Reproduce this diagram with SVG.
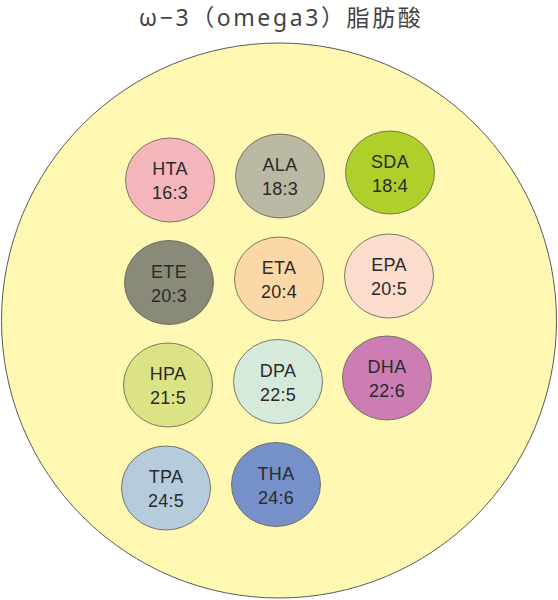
<svg xmlns="http://www.w3.org/2000/svg" width="558" height="600" viewBox="0 0 558 600">
<style>
.n ellipse{stroke:#5a5a50;stroke-width:0.8}
.n text{font-family:"Liberation Sans","Noto Sans",Arial,sans-serif;font-size:18px;fill:#2a2a2a;text-anchor:middle;letter-spacing:0.3px}
.title{font-family:"Noto Sans","Noto Sans CJK SC",sans-serif;font-size:23px;fill:#444;text-anchor:middle;letter-spacing:2.6px}
</style>
<rect width="558" height="600" fill="#ffffff"/>
<text class="title" x="281" y="26">ω−3（omega3）脂肪酸</text>
<ellipse id="bg" cx="279" cy="320.5" rx="277.5" ry="277.5" fill="#fff8b3" stroke="#5a5a5a" stroke-width="1"/>
<g id="connectors"></g>
<g id="HTA" class="n"><ellipse cx="170" cy="180" rx="44.5" ry="42" fill="#f4b6ba"/><text x="170" y="175">HTA</text><text x="170" y="199">16:3</text></g>
<g id="ALA" class="n"><ellipse cx="280" cy="176" rx="44.5" ry="42" fill="#b9b9a3"/><text x="280" y="171">ALA</text><text x="280" y="195">18:3</text></g>
<g id="SDA" class="n"><ellipse cx="390" cy="172.5" rx="44.5" ry="41.5" fill="#afd02a"/><text x="390" y="167.5">SDA</text><text x="390" y="191.5">18:4</text></g>
<g id="ETE" class="n"><ellipse cx="169" cy="282.5" rx="44.5" ry="42" fill="#8a8a78"/><text x="169" y="277.5">ETE</text><text x="169" y="301.5">20:3</text></g>
<g id="ETA" class="n"><ellipse cx="279" cy="279" rx="44.5" ry="42" fill="#fcd7a7"/><text x="279" y="274">ETA</text><text x="279" y="298">20:4</text></g>
<g id="EPA" class="n"><ellipse cx="389" cy="276" rx="44.5" ry="42" fill="#fcdccd"/><text x="389" y="271">EPA</text><text x="389" y="295">20:5</text></g>
<g id="HPA" class="n"><ellipse cx="168" cy="385" rx="44.5" ry="42" fill="#dbe384"/><text x="168" y="380">HPA</text><text x="168" y="404">21:5</text></g>
<g id="DPA" class="n"><ellipse cx="278" cy="381.5" rx="44.5" ry="42" fill="#d5eadb"/><text x="278" y="376.5">DPA</text><text x="278" y="400.5">22:5</text></g>
<g id="DHA" class="n"><ellipse cx="387" cy="378" rx="44.5" ry="42" fill="#cc7eb4"/><text x="387" y="373">DHA</text><text x="387" y="397">22:6</text></g>
<g id="TPA" class="n"><ellipse cx="166" cy="488" rx="44.5" ry="42" fill="#b6ccdd"/><text x="166" y="483">TPA</text><text x="166" y="507">24:5</text></g>
<g id="THA" class="n"><ellipse cx="276" cy="484.5" rx="44.5" ry="42" fill="#7690c9"/><text x="276" y="479.5">THA</text><text x="276" y="503.5">24:6</text></g>
</svg>
